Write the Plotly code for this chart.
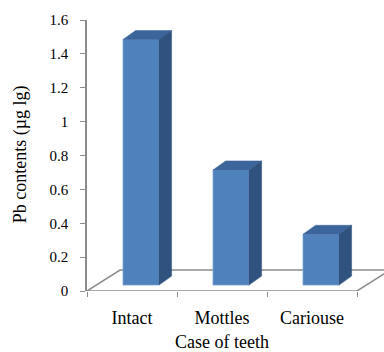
import numpy as np
import plotly.graph_objects as go

# Data
categories = ["Intact", "Mottles", "Cariouse"]
pb_values = [1.45, 0.68, 0.30]
y_ticks = [0, 0.2, 0.4, 0.6, 0.8, 1.0, 1.2, 1.4, 1.6]
y_ticktext = ["0", "0.2", "0.4", "0.6", "0.8", "1", "1.2", "1.4", "1.6"]

# 3-D look: depth of the floor and of each column (in axis units)
FLOOR_DX, FLOOR_DY = 0.367, 0.124
BAR_SHIFT, BAR_LIFT = 0.1, 0.035
BAR_W = 0.4
BAR_DX, BAR_DY = 0.14, 0.053

FRONT = "#4F81BD"
TOP = "#3C659B"
SIDE = "#30527F"
AXIS = "#8C8C8C"
FONT = "Liberation Serif"

fig = go.Figure()

# floor parallelogram, kept beneath all traces
x_lo, x_hi = -0.5, len(categories) - 0.5
floor_x = [x_lo, x_hi, x_hi + FLOOR_DX, x_lo + FLOOR_DX]
floor_y = [0, 0, FLOOR_DY, FLOOR_DY]
floor_path = "M " + " L ".join(f"{a},{b}" for a, b in zip(floor_x, floor_y)) + " Z"
fig.add_shape(type="path", path=floor_path, xref="x", yref="y",
              fillcolor="white", line=dict(color=AXIS, width=1.5),
              layer="below")

xs = np.arange(len(categories)) + BAR_SHIFT

# front faces
fig.add_trace(go.Bar(
    x=xs, y=pb_values, base=BAR_LIFT, width=BAR_W,
    marker=dict(color=FRONT, line=dict(color="#7FA3D3", width=0.8)),
    showlegend=False))

# top and side faces of each column
for xc, v in zip(xs, pb_values):
    x0, x1 = xc - BAR_W / 2, xc + BAR_W / 2
    top = BAR_LIFT + v
    fig.add_trace(go.Scatter(
        x=[x0, x1, x1 + BAR_DX, x0 + BAR_DX, x0],
        y=[top, top, top + BAR_DY, top + BAR_DY, top],
        mode="lines", fill="toself", fillcolor=TOP,
        line=dict(color=TOP, width=0.5), hoverinfo="skip", showlegend=False))
    fig.add_trace(go.Scatter(
        x=[x1, x1 + BAR_DX, x1 + BAR_DX, x1, x1],
        y=[BAR_LIFT, BAR_LIFT + BAR_DY, top + BAR_DY, top, BAR_LIFT],
        mode="lines", fill="toself", fillcolor=SIDE,
        line=dict(color=SIDE, width=0.5), hoverinfo="skip", showlegend=False))

fig.update_layout(
    width=384, height=352,
    margin=dict(l=87, r=0, t=20, b=61),
    paper_bgcolor="white", plot_bgcolor="white",
    font=dict(family=FONT, color="black"),
    xaxis=dict(
        range=[x_lo, 2.8], showgrid=False, zeroline=False, showline=False,
        tickmode="array", tickvals=list(range(len(categories))),
        ticktext=categories, ticks="", tickfont=dict(size=18, family=FONT),
        ticklabelstandoff=14,
        minor=dict(tickmode="array",
                   tickvals=[i - 0.5 for i in range(len(categories) + 1)],
                   ticks="outside", ticklen=5, tickcolor=AXIS, tickwidth=1,
                   showgrid=False),
    ),
    yaxis=dict(
        range=[0, 1.6], showgrid=False, zeroline=False,
        showline=True, linecolor=AXIS, linewidth=1.5,
        tickmode="array", tickvals=y_ticks, ticktext=y_ticktext,
        ticks="outside", ticklen=5, tickcolor=AXIS,
        tickfont=dict(size=15, family=FONT), ticklabelstandoff=9,
    ),
    annotations=[
        dict(text="Pb contents (µg lg)", textangle=-90, showarrow=False,
             xref="paper", yref="paper", x=-0.225, y=0.505,
             xanchor="center", yanchor="middle",
             font=dict(size=18, family=FONT, color="black")),
        dict(text="Case of teeth", showarrow=False,
             xref="x", yref="paper", x=1, y=-0.188,
             xanchor="center", yanchor="middle",
             font=dict(size=18, family=FONT, color="black")),
    ],
)

fig.write_html("out.html")
